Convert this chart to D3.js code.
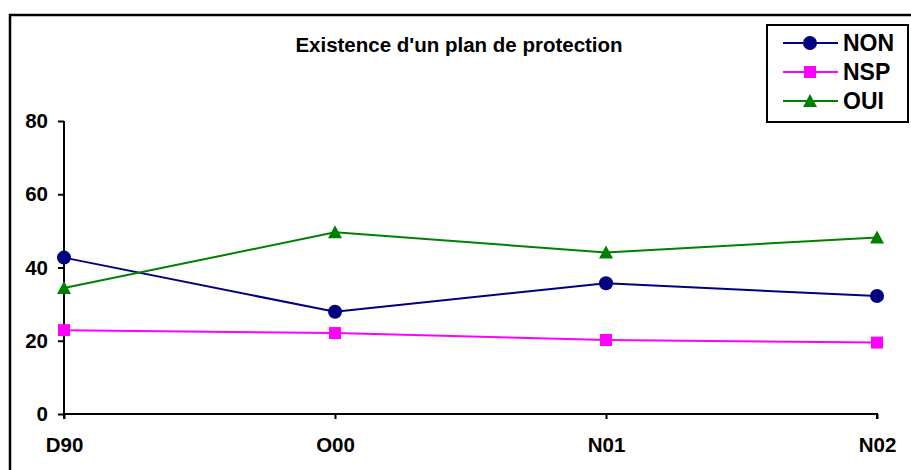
<!DOCTYPE html>
<html><head><meta charset="utf-8">
<script src="https://cdn.jsdelivr.net/npm/d3@7"></script>
<style>body{margin:0;background:#fff}svg{display:block}text{font-family:"Liberation Sans",Arial,sans-serif;font-weight:bold;fill:#000}</style>
</head><body><svg id="c" width="911" height="470"></svg>
<script>
const categories = ["D90","O00","N01","N02"];
const nonValues = [42.7, 27.9, 35.7, 32.2];
const nspValues = [22.9, 22.1, 20.2, 19.5];
const ouiValues = [34.4, 49.6, 44.1, 48.2];
const yTicks = [0, 20, 40, 60, 80];
const title = "Existence d'un plan de protection";

const series = [
  {name:"NON", values:nonValues, color:"#000080", shape:"circle"},
  {name:"NSP", values:nspValues, color:"#FF00FF", shape:"square"},
  {name:"OUI", values:ouiValues, color:"#008000", shape:"triangle"}
];

const svg = d3.select("#c");
svg.append("rect").attr("x",10).attr("y",15).attr("width",930).attr("height",480)
  .attr("fill","none").attr("stroke","#000").attr("stroke-width",2.5);

const x = d3.scalePoint().domain(categories).range([64, 877]);
const y = d3.scaleLinear().domain([0, 80]).range([414, 121]);

const xAxis = svg.append("g").attr("transform","translate(0,414)")
  .call(d3.axisBottom(x).tickSize(5).tickPadding(18));
xAxis.select(".domain").attr("stroke","#000").attr("stroke-width",2).attr("d","M64,5V0H877V5");
xAxis.selectAll("line").attr("stroke-width",2);
xAxis.selectAll("text").attr("font-size",20.5).attr("font-family","Liberation Sans, Arial").attr("font-weight","bold").attr("fill","#000");

const yAxis = svg.append("g").attr("transform","translate(64,0)")
  .call(d3.axisLeft(y).tickValues(yTicks).tickSize(6).tickPadding(10));
yAxis.select(".domain").attr("stroke","#000").attr("stroke-width",2).attr("d","M0,121V414");
yAxis.selectAll("line").attr("stroke-width",2);
yAxis.selectAll("text").attr("font-size",20.5).attr("font-family","Liberation Sans, Arial").attr("font-weight","bold").attr("fill","#000");

svg.append("text").attr("x",459).attr("y",52).attr("text-anchor","middle").attr("font-size",20.5).text(title);

function marker(g, shape, color, cx, cy){
  if(shape==="circle") g.append("circle").attr("cx",cx).attr("cy",cy).attr("r",7).attr("fill",color);
  else if(shape==="square") g.append("rect").attr("x",cx-6).attr("y",cy-6).attr("width",12).attr("height",12).attr("fill",color);
  else g.append("path").attr("d",`M${cx},${cy-7}L${cx+7},${cy+6}L${cx-7},${cy+6}Z`).attr("fill",color);
}

const line = d3.line().x((d,i)=>x(categories[i])).y(d=>y(d));
series.forEach(s=>{
  svg.append("path").datum(s.values).attr("d",line).attr("fill","none").attr("stroke",s.color).attr("stroke-width",2);
  const g = svg.append("g");
  s.values.forEach((v,i)=>marker(g, s.shape, s.color, x(categories[i]), y(v)));
});

// legend
const lg = svg.append("g");
lg.append("rect").attr("x",767).attr("y",25).attr("width",141).attr("height",97).attr("fill","#fff").attr("stroke","#000").attr("stroke-width",2);
series.forEach((s,i)=>{
  const cy = 43 + i*29;
  lg.append("line").attr("x1",783).attr("x2",838).attr("y1",cy).attr("y2",cy).attr("stroke",s.color).attr("stroke-width",2);
  marker(lg, s.shape, s.color, 810, cy);
  lg.append("text").attr("x",843).attr("y",cy+8).attr("font-size",23).text(s.name);
});
</script></body></html>
